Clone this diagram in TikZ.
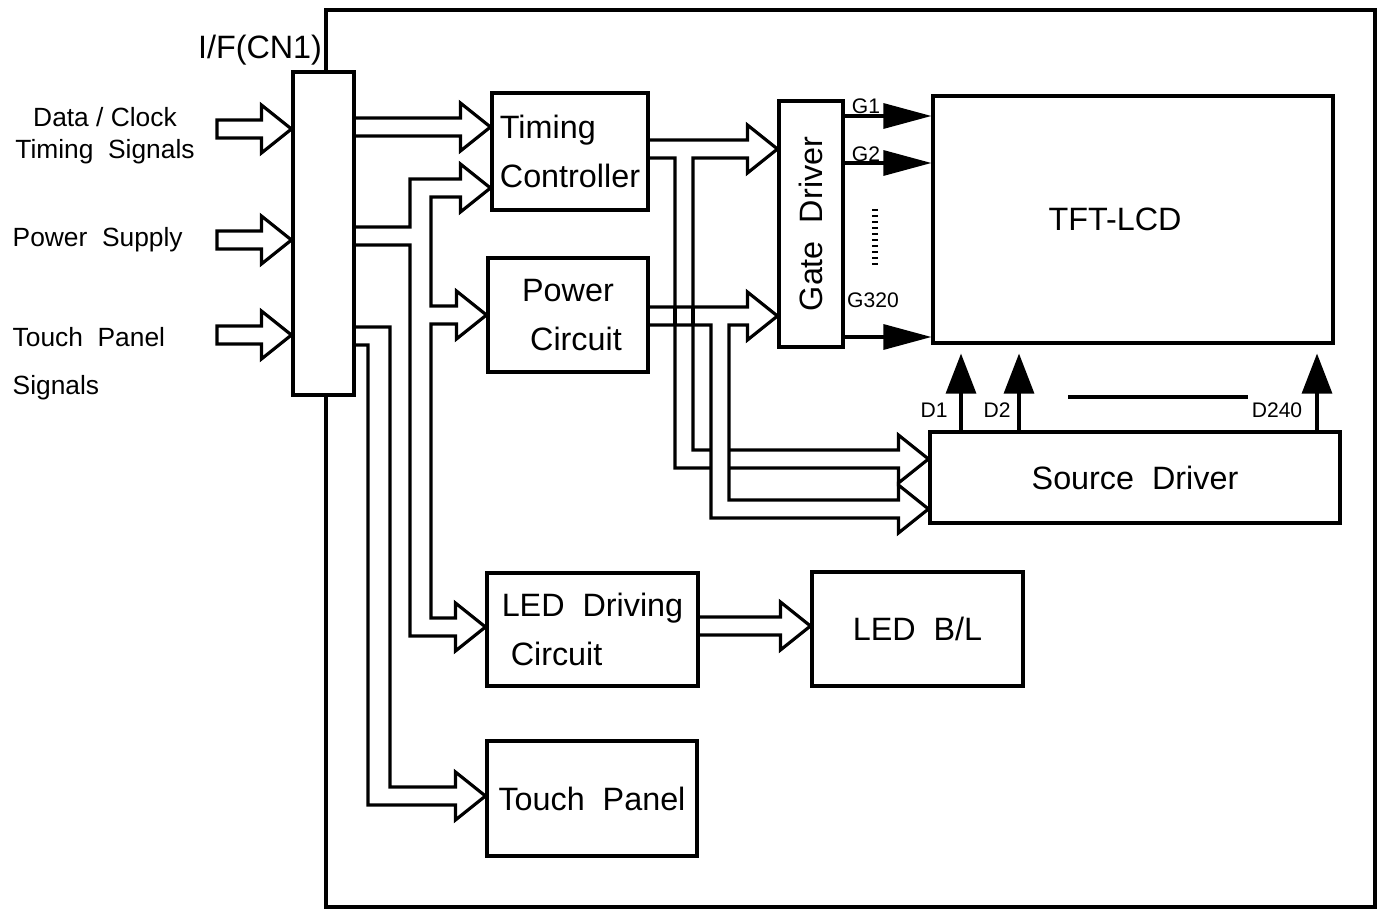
\documentclass[tikz,border=0pt]{standalone}
\usepackage{fontspec}
\setmainfont{Liberation Sans}
\usetikzlibrary{arrows.meta,calc}
\pgfdeclarelayer{bg}
\pgfsetlayers{bg,main}
% head of a hollow bus arrow, starting at the upper shaft edge of its base
\newcommand{\hd}{-- ++(0,-15) -- ++(30,24) -- ++(-30,24) -- ++(0,-15)}

\begin{document}
\begin{tikzpicture}[x=0.1mm,y=-0.1mm,
  box/.style={draw,line width=0.9pt,fill=white,inner sep=0pt,font=\fontsize{9.2}{14}\selectfont},
  bus/.style={line width=0.9pt,line join=miter},
  gsig/.style={line width=0.9pt,-{Triangle[length=4.8mm,width=2.5mm]}},
  dsig/.style={line width=0.9pt,-{Triangle[length=4mm,width=3mm]}},
  lbl/.style={inner sep=0pt,font=\fontsize{7.5}{9.1}\selectfont},
  pin/.style={inner sep=0pt,font=\fontsize{6}{7}\selectfont}]
  \useasboundingbox (0,0) rectangle (1382,909);
  \draw[line width=1pt] (326,10) rectangle (1375,907);

  % blocks
  \node[box,minimum width=6.1mm,minimum height=32.3mm] (ifc) at (323.5,233.5) {};
  \node[box,minimum width=15.6mm,minimum height=11.7mm,align=left] (tc) at (570,151.5) {Timing\\Controller};
  \node[box,minimum width=16mm,minimum height=11.4mm,align=center] (pc) at (568,315) {Power\\\hspace*{1.6mm}Circuit};
  \node[box,minimum width=6.4mm,minimum height=24.6mm] (gd) at (811,224) {\rotatebox{90}{Gate~~Driver}};
  \node[box,minimum width=40mm,minimum height=24.7mm] (tft) at (1133,219.5) {TFT-LCD\hspace*{3.6mm}};
  \node[box,minimum width=41mm,minimum height=9.1mm] (sd) at (1135,477.5) {Source~~Driver};
  \node[box,minimum width=21.1mm,minimum height=11.3mm,align=left] (ledc) at (592.5,629.5) {LED~~Driving\\\hspace*{0.9mm}Circuit};
  \node[box,minimum width=21.1mm,minimum height=11.4mm] (bl) at (917.5,629) {LED~~B/L};
  \node[box,minimum width=21mm,minimum height=11.5mm] (tp) at (592,798.5) {Touch~~Panel};

  % outside signals
  \coordinate (in1) at (217,120);
  \coordinate (in2) at (217,231);
  \coordinate (in3) at (217,326);
  \node[lbl,align=center] (dcl) at (105,136) {Data / Clock\\Timing~~Signals};
  \node[lbl,anchor=west] (psl) at (12,240) {Power~~Supply};
  \node[lbl,anchor=west,align=left,font=\fontsize{7.5}{13.7}\selectfont] (tpl) at (12,364) {Touch~~Panel\\Signals};
  \node[font=\fontsize{9.2}{11}\selectfont,inner sep=0pt] (ifl) at (260,50) {I/F(CN1)};

  \begin{pgfonlayer}{bg}
  \draw[bus] (in1) -- ($(in1 -| ifc.west)+(-30,0)$) \hd -- ($(in1)+(0,18)$) -- cycle;
  \draw[bus] (in2) -- ($(in2 -| ifc.west)+(-30,0)$) \hd -- ($(in2)+(0,18)$) -- cycle;
  \draw[bus] (in3) -- ($(in3 -| ifc.west)+(-30,0)$) \hd -- ($(in3)+(0,18)$) -- cycle;
  % data / clock
  \draw[bus] (ifc.east |- 0,118) -- ($(tc.west |- 0,118)+(-30,0)$) \hd -- (ifc.east |- 0,136);
  % power supply bus
  \draw[bus] (ifc.east |- 0,227) -- (410,227) -- (410,179) -- ($(tc.west |- 0,179)+(-30,0)$) \hd
    -- (431,197) -- (431,306) -- ($(pc.west |- 0,306)+(-30,0)$) \hd
    -- (431,324) -- (431,618) -- ($(ledc.west |- 0,618)+(-30,0)$) \hd
    -- (410,636) -- (410,245) -- (ifc.east |- 0,245);
  % touch panel bus
  \draw[bus] (ifc.east |- 0,327) -- (390,327) -- (390,787) -- ($(tp.west |- 0,787)+(-30,0)$) \hd
    -- (368,805) -- (368,345) -- (ifc.east |- 0,345);
  % timing controller outputs
  \draw[bus] (tc.east |- 0,140) -- ($(gd.west |- 0,140)+(-30,0)$) \hd
    -- (693,158) -- (693,450) -- ($(sd.west |- 0,450)+(-30,0)$) \hd
    -- (675,468) -- (675,158) -- (tc.east |- 0,158);
  % power circuit outputs, over the timing bus
  \draw[bus,fill=white] (pc.east |- 0,307) -- ($(gd.west |- 0,307)+(-30,0)$) \hd
    -- (729,325) -- (729,500) -- ($(sd.west |- 0,500)+(-30,0)$) \hd
    -- (711,518) -- (711,325) -- (pc.east |- 0,325);
  \draw[bus] (675,307) -- (675,325) (693,307) -- (693,325);
  % back light
  \draw[bus] (ledc.east |- 0,617) -- ($(bl.west |- 0,617)+(-30,0)$) \hd -- (ledc.east |- 0,635);
  \end{pgfonlayer}

  % gate and data lines
  \foreach \y in {116,163,337}
    \draw[gsig] (gd.east |- 0,\y) -- (tft.west |- 0,\y);
  \foreach \x in {961,1019,1317}
    \draw[dsig] (sd.north -| \x,0) -- ($(tft.south -| \x,0)+(0,9)$);
  \node[pin] (g1) at (866,106) {G1};
  \node[pin] (g2) at (866,154) {G2};
  \node[pin] (g320) at (873,300) {G320};
  \draw[line width=1.5pt,dash pattern=on 0.6pt off 1.1pt] (875,209) -- (875,268);
  \node[pin] (d1) at (934,410) {D1};
  \node[pin] (d2) at (997,410) {D2};
  \node[pin] (d240) at (1277,410) {D240};
  \draw[line width=0.9pt] (1068,397) -- (1248,397);
\end{tikzpicture}
\end{document}
